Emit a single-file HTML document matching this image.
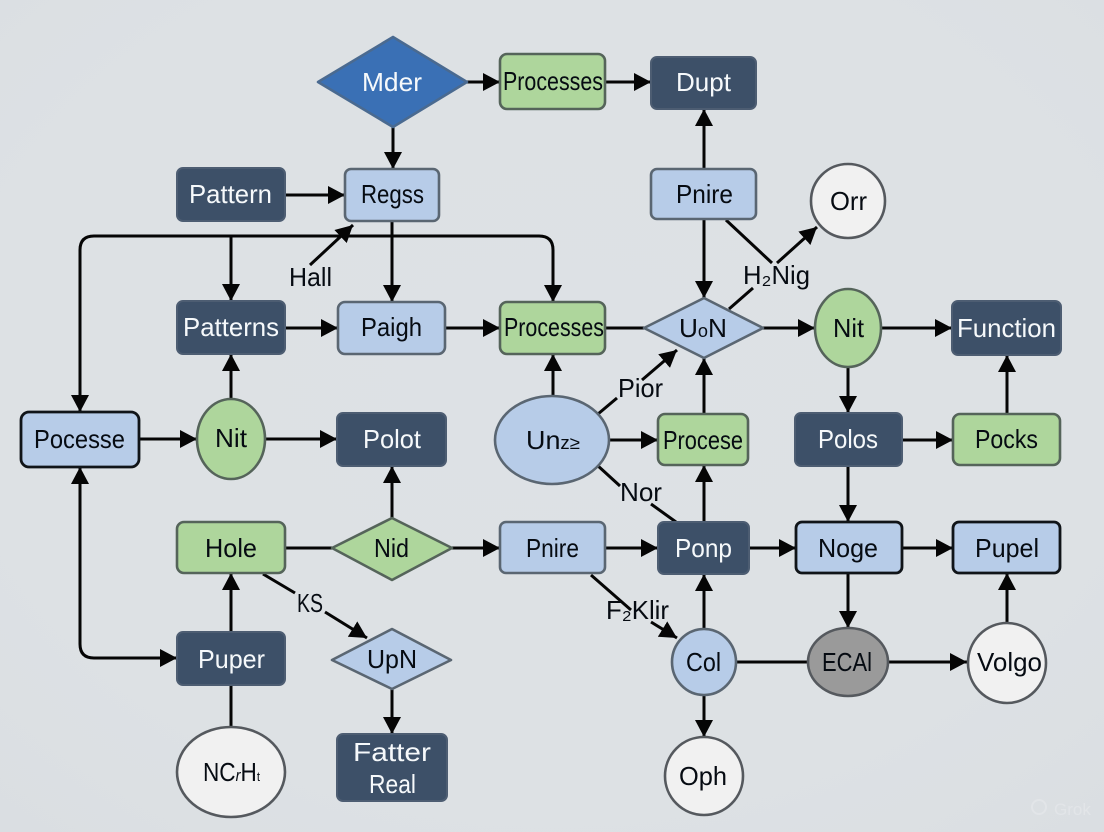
<!DOCTYPE html>
<html><head><meta charset="utf-8">
<style>
html,body{margin:0;padding:0;background:#dde1e5;width:1104px;height:832px;overflow:hidden}
svg{display:block}
text{font-family:"Liberation Sans","DejaVu Sans",sans-serif;font-size:26px;fill:#060b12}
text.w{fill:#f6f9fb}
.c line,.c path{stroke:#050505;stroke-width:3;fill:none}
.a{marker-end:url(#m)}
.b{marker-start:url(#s);marker-end:url(#m)}
.dk{fill:#3d5068;stroke:#4d5d72;stroke-width:2}
.bl{fill:#b7cce8;stroke:#5a6672;stroke-width:2.6}
.bk{fill:#b7cce8;stroke:#101418;stroke-width:2.8}
.gr{fill:#aed69c;stroke:#55645a;stroke-width:2.6}
.wh{fill:#f1f1f1;stroke:#55595e;stroke-width:2.6}
</style></head><body>
<svg width="1104" height="832" viewBox="0 0 1104 832" xmlns="http://www.w3.org/2000/svg">
<defs>
<marker id="m" markerUnits="userSpaceOnUse" markerWidth="20" markerHeight="20" refX="17" refY="10" orient="auto"><path d="M0,1 L17,10 L0,19 Z" fill="#050505"/></marker>
<marker id="s" markerUnits="userSpaceOnUse" markerWidth="20" markerHeight="20" refX="1" refY="10" orient="auto"><path d="M18,1 L1,10 L18,19 Z" fill="#050505"/></marker>
<radialGradient id="bg" cx="50%" cy="45%" r="75%"><stop offset="0" stop-color="#dde1e5"/><stop offset="0.7" stop-color="#dde1e4"/><stop offset="1" stop-color="#dadee2"/></radialGradient>
</defs>
<rect width="1104" height="832" fill="url(#bg)"/>
<g class="c">
<line class="a" x1="467" y1="82" x2="500" y2="82"/>
<line class="a" x1="605" y1="82" x2="651" y2="82"/>
<line class="a" x1="704" y1="169" x2="704" y2="109"/>
<line class="a" x1="393" y1="127" x2="393" y2="169"/>
<line class="a" x1="285" y1="195" x2="345" y2="195"/>
<line class="a" x1="310" y1="265" x2="353" y2="225"/>
<line class="a" x1="392" y1="221" x2="392" y2="302"/>
<path class="b" d="M80,412 L80,250 Q80,236 94,236 L539,236 Q553,236 553,250 L553,302"/>
<line class="a" x1="231" y1="236" x2="231" y2="301"/>
<line class="a" x1="285" y1="328" x2="338" y2="328"/>
<line class="a" x1="445" y1="328" x2="500" y2="328"/>
<line x1="605" y1="328" x2="644" y2="328"/>
<line class="a" x1="704" y1="219" x2="704" y2="298"/>
<line x1="726" y1="220" x2="772" y2="263"/>
<line class="a" x1="777" y1="263" x2="817" y2="227"/>
<line x1="729" y1="309" x2="753" y2="288"/>
<line class="a" x1="763" y1="328" x2="815" y2="328"/>
<line class="a" x1="881" y1="328" x2="952" y2="328"/>
<line class="a" x1="1007" y1="414" x2="1007" y2="355"/>
<line class="a" x1="848" y1="367" x2="848" y2="413"/>
<line class="a" x1="902" y1="440" x2="953" y2="440"/>
<line class="a" x1="609" y1="440" x2="658" y2="440"/>
<line class="a" x1="553" y1="396" x2="553" y2="354"/>
<line x1="598" y1="414" x2="617" y2="398"/>
<line class="a" x1="642" y1="380" x2="677" y2="350"/>
<line class="a" x1="704" y1="414" x2="704" y2="358"/>
<line class="a" x1="704" y1="522" x2="704" y2="465"/>
<line x1="597" y1="465" x2="620" y2="486"/>
<line x1="651" y1="504" x2="676" y2="522"/>
<line class="a" x1="139" y1="439" x2="197" y2="439"/>
<line class="a" x1="265" y1="439" x2="337" y2="439"/>
<line class="a" x1="231" y1="400" x2="231" y2="354"/>
<line class="a" x1="392" y1="518" x2="392" y2="466"/>
<path class="b" d="M80,467 L80,644 Q80,658 94,658 L177,658"/>
<line x1="285" y1="548" x2="332" y2="548"/>
<line class="a" x1="452" y1="548" x2="500" y2="548"/>
<line class="a" x1="605" y1="548" x2="658" y2="548"/>
<line class="a" x1="749" y1="548" x2="796" y2="548"/>
<line class="a" x1="902" y1="548" x2="953" y2="548"/>
<line class="a" x1="1007" y1="623" x2="1007" y2="573"/>
<line class="a" x1="848" y1="573" x2="848" y2="628"/>
<line class="a" x1="848" y1="466" x2="848" y2="522"/>
<line class="a" x1="704" y1="629" x2="704" y2="574"/>
<line class="a" x1="704" y1="695" x2="704" y2="737"/>
<line x1="736" y1="662" x2="808" y2="662"/>
<line class="a" x1="888" y1="662" x2="967" y2="662"/>
<line class="a" x1="231" y1="632" x2="231" y2="573"/>
<line x1="231" y1="685" x2="231" y2="727"/>
<line x1="263" y1="574" x2="295" y2="593"/>
<line class="a" x1="325" y1="612" x2="367" y2="638"/>
<line class="a" x1="392" y1="689" x2="392" y2="734"/>
<line x1="591" y1="575" x2="631" y2="610"/>
<line class="a" x1="651" y1="622" x2="677" y2="638"/>
</g>

<path d="M318,82 L393,37 L467,82 L393,127 Z" fill="#3a70b5" stroke="#4a6a90" stroke-width="2.6" stroke-linejoin="round"/>
<rect class="gr" x="500" y="54" width="105" height="55" rx="7"/>
<rect class="dk" x="651" y="57" width="105" height="52" rx="6"/>
<rect class="dk" x="177" y="168" width="108" height="53" rx="6"/>
<rect class="bl" x="345" y="169" width="94" height="52" rx="6"/>
<rect class="dk" x="177" y="301" width="108" height="53" rx="6"/>
<rect class="bl" x="338" y="302" width="107" height="52" rx="7"/>
<rect class="gr" x="500" y="302" width="105" height="52" rx="7"/>
<rect class="bl" x="651" y="169" width="105" height="50" rx="6"/>
<circle class="wh" cx="848" cy="201" r="37"/>
<path class="bl" d="M644,328 L704,298 L763,328 L704,358 Z" stroke-linejoin="round"/>
<ellipse class="gr" cx="848" cy="328" rx="33" ry="39"/>
<rect class="dk" x="952" y="301" width="109" height="54" rx="6"/>
<rect class="dk" x="795" y="413" width="107" height="53" rx="6"/>
<rect class="gr" x="953" y="414" width="107" height="51" rx="7"/>
<rect class="gr" x="658" y="414" width="90" height="51" rx="7"/>
<ellipse class="bl" cx="552" cy="440" rx="57" ry="44"/>
<rect class="dk" x="337" y="413" width="109" height="53" rx="6"/>
<ellipse class="gr" cx="231" cy="439" rx="34" ry="40"/>
<rect class="bk" x="21" y="412" width="118" height="55" rx="8"/>
<rect class="gr" x="177" y="522" width="108" height="51" rx="7"/>
<path class="gr" d="M332,548 L392,518 L452,548 L392,580 Z" stroke-linejoin="round"/>
<rect class="bl" x="500" y="522" width="105" height="51" rx="6"/>
<rect class="dk" x="658" y="522" width="91" height="52" rx="6"/>
<rect class="bk" x="796" y="522" width="106" height="51" rx="6"/>
<rect class="bk" x="953" y="522" width="107" height="51" rx="6"/>
<rect class="dk" x="177" y="632" width="108" height="53" rx="6"/>
<path class="bl" d="M332,660 L392,629 L451,660 L392,689 Z" stroke-linejoin="round"/>
<ellipse class="wh" cx="231" cy="772" rx="54" ry="45"/>
<rect class="dk" x="337" y="734" width="110" height="67" rx="6"/>
<ellipse class="bl" cx="704" cy="662" rx="32" ry="33"/>
<ellipse cx="848" cy="662" rx="40" ry="34" fill="#9a9a9a" stroke="#55595e" stroke-width="2.6"/>
<ellipse class="wh" cx="1007" cy="663" rx="39" ry="40"/>
<ellipse class="wh" cx="704" cy="776" rx="39" ry="39"/>

<text class="w" x="362" y="91" textLength="60" lengthAdjust="spacingAndGlyphs">Mder</text>
<text x="503" y="90" textLength="100" lengthAdjust="spacingAndGlyphs">Processes</text>
<text class="w" x="676" y="91" textLength="55" lengthAdjust="spacingAndGlyphs">Dupt</text>
<text class="w" x="189" y="203" textLength="83" lengthAdjust="spacingAndGlyphs">Pattern</text>
<text x="361" y="203" textLength="63" lengthAdjust="spacingAndGlyphs">Regss</text>
<text x="289" y="286" textLength="43" lengthAdjust="spacingAndGlyphs">Hall</text>
<text class="w" x="183" y="336" textLength="96" lengthAdjust="spacingAndGlyphs">Patterns</text>
<text x="361" y="336" textLength="61" lengthAdjust="spacingAndGlyphs">Paigh</text>
<text x="504" y="336" textLength="100" lengthAdjust="spacingAndGlyphs">Processes</text>
<text x="676" y="203" textLength="57" lengthAdjust="spacingAndGlyphs">Pnire</text>
<text x="830" y="210" textLength="37" lengthAdjust="spacingAndGlyphs">Orr</text>
<text x="743" y="284" textLength="67" lengthAdjust="spacingAndGlyphs">H₂Nig</text>
<text x="679" y="337" textLength="48" lengthAdjust="spacingAndGlyphs">U<tspan font-size="18">o</tspan>N</text>
<text x="833" y="337" textLength="31" lengthAdjust="spacingAndGlyphs">Nit</text>
<text class="w" x="957" y="337" textLength="99" lengthAdjust="spacingAndGlyphs">Function</text>
<text x="618" y="397" textLength="45" lengthAdjust="spacingAndGlyphs">Pior</text>
<text x="663" y="449" textLength="80" lengthAdjust="spacingAndGlyphs">Procese</text>
<text class="w" x="818" y="448" textLength="60" lengthAdjust="spacingAndGlyphs">Polos</text>
<text x="975" y="448" textLength="63" lengthAdjust="spacingAndGlyphs">Pocks</text>
<text x="526" y="449" textLength="54" lengthAdjust="spacingAndGlyphs">Un<tspan font-size="18">z≥</tspan></text>
<text x="34" y="448" textLength="91" lengthAdjust="spacingAndGlyphs">Pocesse</text>
<text x="215" y="447" textLength="32" lengthAdjust="spacingAndGlyphs">Nit</text>
<text class="w" x="363" y="448" textLength="58" lengthAdjust="spacingAndGlyphs">Polot</text>
<text x="620" y="501" textLength="42" lengthAdjust="spacingAndGlyphs">Nor</text>
<text x="205" y="557" textLength="52" lengthAdjust="spacingAndGlyphs">Hole</text>
<text x="374" y="557" textLength="35" lengthAdjust="spacingAndGlyphs">Nid</text>
<text x="526" y="557" textLength="53" lengthAdjust="spacingAndGlyphs">Pnire</text>
<text class="w" x="675" y="557" textLength="57" lengthAdjust="spacingAndGlyphs">Ponp</text>
<text x="818" y="557" textLength="60" lengthAdjust="spacingAndGlyphs">Noge</text>
<text x="975" y="557" textLength="64" lengthAdjust="spacingAndGlyphs">Pupel</text>
<text x="606" y="619" textLength="63" lengthAdjust="spacingAndGlyphs">F₂Klir</text>
<text x="686" y="671" textLength="35" lengthAdjust="spacingAndGlyphs">Col</text>
<text x="822" y="671" textLength="50" lengthAdjust="spacingAndGlyphs">ECAl</text>
<text x="977" y="671" textLength="65" lengthAdjust="spacingAndGlyphs">Volgo</text>
<text x="679" y="785" textLength="48" lengthAdjust="spacingAndGlyphs">Oph</text>
<text x="297" y="612" textLength="26" lengthAdjust="spacingAndGlyphs">KS</text>
<text x="367" y="668" textLength="50" lengthAdjust="spacingAndGlyphs">UpN</text>
<text class="w" x="198" y="668" textLength="67" lengthAdjust="spacingAndGlyphs">Puper</text>
<text x="203" y="781" textLength="57" lengthAdjust="spacingAndGlyphs">NC<tspan font-size="17" font-style="italic">r</tspan>H<tspan font-size="13">t</tspan></text>
<text class="w" x="353" y="761" textLength="78" lengthAdjust="spacingAndGlyphs">Fatter</text>
<text class="w" x="369" y="793" textLength="47" lengthAdjust="spacingAndGlyphs">Real</text>
<text x="1054" y="815" style="font-size:17px;fill:#e2e5e8">Grok</text>
<circle cx="1039" cy="807" r="7" fill="none" stroke="#e2e5e8" stroke-width="2"/>
</svg>
</body></html>
